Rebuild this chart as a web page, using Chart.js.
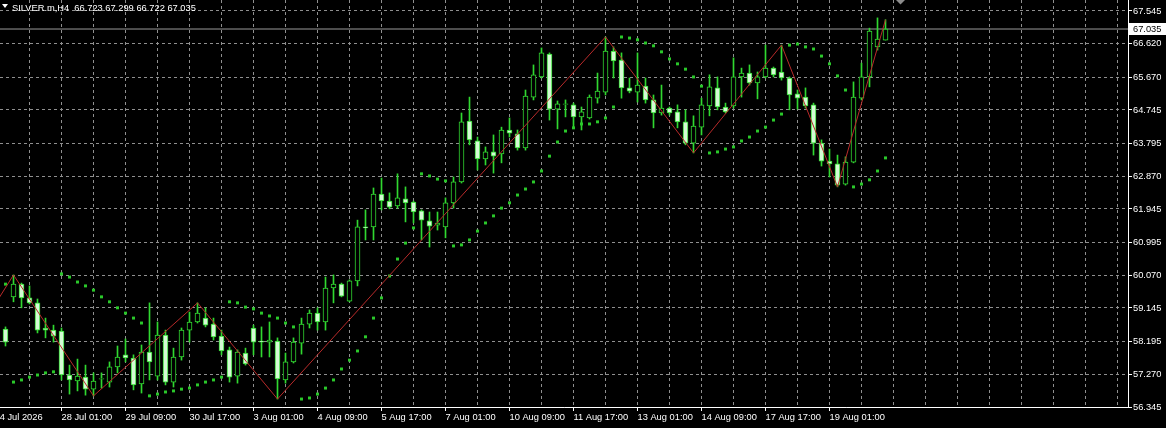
<!DOCTYPE html>
<html>
<head>
<meta charset="utf-8">
<script src="https://cdn.jsdelivr.net/npm/chart.js@4.4.1/dist/chart.umd.min.js"></script>
<style>
html,body{margin:0;padding:0;background:#000;}
#wrap{width:1166px;height:428px;}
</style>
</head>
<body>
<div id="wrap"><canvas id="c" width="1166" height="428"></canvas></div>
<script>
// SYMBOL
const symbol = "SILVER.m,H4";

// CANDLES (H4 bars, index 0 = leftmost visible bar)
const open = [58.55,59.46,59.82,59.43,59.29,58.58,58.52,58.49,57.25,57.08,
57.19,56.85,57.13,57.05,57.48,57.82,57.73,57.00,57.90,57.22,
58.38,57.05,57.76,58.52,58.75,58.86,58.69,58.35,57.96,57.22,
57.87,58.58,58.21,58.18,58.21,57.11,57.62,58.15,58.69,59.00,
58.75,59.71,59.82,59.34,59.91,61.44,61.44,62.37,62.17,62.03,
62.23,62.14,61.89,61.61,61.49,61.44,62.12,62.71,64.43,63.87,
63.36,63.56,63.50,64.18,64.07,63.67,65.11,65.68,66.33,64.77,
64.90,64.89,64.55,64.52,65.08,65.25,66.41,66.16,65.37,65.25,
65.42,65.03,64.66,64.80,64.69,64.41,63.81,64.26,64.86,65.37,
64.83,64.86,65.68,65.79,65.51,65.68,65.93,65.82,65.65,65.20,
65.11,64.89,63.81,63.30,63.22,62.65,63.27,65.08,65.68,66.53,66.723];
const high = [58.61,60.08,59.85,59.77,59.40,58.86,58.66,58.58,57.53,57.70,
57.53,57.31,57.31,57.62,58.07,58.27,57.82,58.10,59.29,58.75,
58.52,58.01,58.58,59.03,59.29,59.15,58.86,58.52,58.04,57.96,
58.01,58.66,58.61,58.75,58.30,57.87,58.30,58.86,59.09,59.15,
60.02,60.08,59.85,59.94,61.63,61.92,62.54,62.82,62.40,62.94,
62.57,62.17,61.92,61.86,61.86,62.26,62.85,64.66,65.11,63.98,
63.70,64.04,64.26,64.52,64.18,65.31,66.02,66.50,66.36,65.00,
65.03,64.94,64.83,65.17,65.79,66.81,66.53,66.36,65.65,66.36,
65.65,65.17,65.45,64.83,64.89,64.75,64.58,65.08,65.74,65.68,
64.94,66.22,65.93,66.02,65.82,66.58,65.96,66.58,65.68,65.31,
65.37,64.94,63.90,63.64,63.47,63.42,65.54,66.07,67.06,67.35,67.299];
const low = [58.07,59.32,59.15,59.26,58.44,58.30,58.18,57.11,56.71,56.80,
56.68,56.66,56.88,56.91,57.31,57.62,56.83,56.74,57.11,57.11,
56.97,56.91,57.67,58.18,58.72,58.61,58.24,57.82,57.05,57.02,
57.53,57.82,57.76,57.76,56.57,57.02,57.59,57.84,58.58,58.52,
58.52,59.29,59.46,59.32,59.77,61.07,61.07,61.92,61.95,61.97,
61.58,61.55,61.07,60.87,61.35,61.13,61.97,62.68,63.76,63.05,
63.19,62.96,63.25,63.98,63.61,63.61,65.03,65.65,64.46,64.21,
64.55,64.26,64.18,64.49,64.94,65.17,65.65,65.08,65.23,64.97,
64.94,64.24,64.60,64.60,64.24,63.76,63.53,64.04,64.58,64.75,
64.66,64.80,65.11,65.45,65.06,65.65,65.68,65.59,64.75,64.77,
64.80,63.47,63.16,62.85,62.57,62.62,63.25,65.03,65.40,66.44,66.722];
const close = [58.18,59.82,59.43,59.29,58.52,58.52,58.35,57.25,57.11,57.22,
56.85,57.08,57.15,57.48,57.76,57.73,56.97,57.90,57.62,58.38,
57.05,57.76,58.52,58.75,59.00,58.66,58.33,57.93,57.19,57.90,
57.56,58.18,58.18,58.24,57.14,57.62,58.18,58.69,59.00,58.75,
59.71,59.82,59.48,59.91,61.44,61.41,62.37,62.17,62.00,62.26,
62.12,61.86,61.63,61.46,61.55,62.12,62.71,64.41,63.90,63.36,
63.56,63.44,64.18,64.09,63.67,65.14,65.74,66.36,64.77,64.92,
64.92,64.55,64.69,65.11,65.28,66.41,66.13,65.37,65.28,65.45,
65.03,64.66,64.80,64.66,64.41,63.81,64.29,64.89,65.40,64.83,
64.69,65.68,65.79,65.51,65.68,65.93,65.74,65.65,65.17,65.08,
64.86,63.81,63.30,63.22,62.62,63.27,65.11,65.68,66.98,66.75,67.035];

// PARABOLIC SAR (one dot per bar)
const sar = [59.82,57.05,57.11,57.19,57.25,57.31,57.34,60.11,60.02,59.88,
59.77,59.65,59.46,59.32,59.15,59.00,58.86,58.72,56.66,56.71,
56.77,56.80,56.85,56.88,56.97,57.05,57.11,57.19,59.32,59.29,
59.17,59.12,59.00,58.92,58.86,58.72,58.61,56.57,56.60,56.71,
56.88,57.11,57.42,57.67,57.93,58.33,58.86,59.43,60.05,60.53,
60.98,61.41,62.94,62.88,62.79,62.74,60.90,60.93,61.07,61.32,
61.55,61.75,61.97,62.12,62.34,62.51,62.71,63.02,63.44,63.84,
64.15,64.24,64.35,64.35,64.41,64.52,64.83,66.81,66.78,66.73,
66.64,66.56,66.39,66.19,66.05,65.90,65.68,65.42,63.53,63.56,
63.64,63.70,63.87,63.98,64.15,64.26,64.46,64.63,66.58,66.61,
66.53,66.47,66.27,66.05,65.71,65.31,62.57,62.65,62.77,63.02,63.39];

// ZIGZAG swing points
const zzBars = [-3, 1, 11, 24, 34, 75, 86, 97, 104, 110];
const zzPrices = [58.64, 60.08, 56.66, 59.29, 56.57, 66.81, 63.53, 66.58, 62.57, 67.299];

// AXES
const yTicks = [56.345,57.270,58.195,59.145,60.070,60.995,61.945,62.870,63.795,64.745,65.670,66.620,67.545];
const xLabelBars = [-1.375, 7, 15, 23, 31, 39, 47, 55, 63, 71, 79, 87, 95, 103];
const xLabels = ["24 Jul 2026","28 Jul 01:00","29 Jul 09:00","30 Jul 17:00","3 Aug 01:00","4 Aug 09:00",
"5 Aug 17:00","7 Aug 01:00","10 Aug 09:00","11 Aug 17:00","13 Aug 01:00","14 Aug 09:00","17 Aug 17:00","19 Aug 01:00"];

// STYLE
const GREEN = "#30d830";
const BEAR_FILL = "#d4fad4";
const SAR_COL = "#2ac82a";
const ZZ_COL = "#b82a2a";
const GRID = "#8f8f8f";
const FONT = {family: "'Liberation Sans', Arial, sans-serif", size: 9.3};

const bars = open.map((_, k) => k);
const last = bars.length - 1;
const xMin = -0.6875, xMax = 140.3125;
let gridBars = [];
for (let k = 3; k <= 139; k += 4) gridBars.push(k);

// extra drawing: header, price label, shift marker
const extras = {
  id: "extras",
  afterDraw(chart) {
    const ctx = chart.ctx;
    const yS = chart.scales.y;
    ctx.save();
    // header
    ctx.fillStyle = "#fff";
    ctx.beginPath();
    ctx.moveTo(2, 4); ctx.lineTo(8, 4); ctx.lineTo(5, 8); ctx.closePath(); ctx.fill();
    ctx.font = "9.3px 'Liberation Sans', Arial, sans-serif";
    ctx.textBaseline = "alphabetic";
    ctx.fillText(symbol + "  " + open[last].toFixed(3) + " " + high[last].toFixed(3) + " " +
      low[last].toFixed(3) + " " + close[last].toFixed(3), 12, 11);
    // current price label
    let py = Math.round(yS.getPixelForValue(close[last]));
    ctx.fillStyle = "#fff";
    ctx.fillRect(chart.chartArea.right + 1, py - 6, 37, 12);
    ctx.fillStyle = "#000";
    ctx.textBaseline = "middle";
    ctx.fillText(close[last].toFixed(3), chart.chartArea.right + 5, py + 0.5);
    // chart shift marker
    ctx.fillStyle = "#8c8c8c";
    ctx.beginPath();
    ctx.moveTo(896, 0); ctx.lineTo(905, 0); ctx.lineTo(900.5, 4.5); ctx.closePath(); ctx.fill();
    ctx.restore();
  }
};

new Chart(document.getElementById("c"), {
  type: "bar",
  data: {
    datasets: [
      {
        type: "line",
        data: zzBars.map((b, i) => ({x: b, y: zzPrices[i]})),
        borderColor: ZZ_COL,
        borderWidth: 1,
        pointRadius: 0,
        tension: 0,
        order: 0
      },
      {
        type: "line",
        data: bars.map(k => ({x: k, y: sar[k]})),
        showLine: false,
        pointStyle: "rect",
        pointRadius: 2.1,
        pointBackgroundColor: SAR_COL,
        pointBorderWidth: 0,
        order: 1
      },
      {
        data: bars.map(k => ({x: k, y: [open[k], close[k]]})),
        backgroundColor: bars.map(k => close[k] >= open[k] ? "#000" : BEAR_FILL),
        borderColor: GREEN,
        borderWidth: 1,
        borderSkipped: false,
        barThickness: 5,
        grouped: false,
        order: 2
      },
      {
        data: bars.map(k => ({x: k, y: [low[k], high[k]]})),
        backgroundColor: GREEN,
        borderWidth: 0,
        barThickness: 1,
        grouped: false,
        order: 3
      },
      {
        type: "line",
        data: [{x: xMin, y: close[last]}, {x: xMax, y: close[last]}],
        borderColor: "#9a9a9a",
        borderWidth: 1,
        pointRadius: 0,
        order: 4
      }
    ]
  },
  options: {
    responsive: false,
    animation: false,
    devicePixelRatio: 1,
    layout: {padding: 0, autoPadding: false},
    plugins: {legend: {display: false}, tooltip: {enabled: false}},
    scales: {
      x: {
        type: "linear",
        min: xMin,
        max: xMax,
        offset: false,
        afterBuildTicks: s => { s.ticks = [xLabelBars[0]].concat(gridBars).map(v => ({value: v})); },
        afterFit: s => { s.height = 21; s.paddingLeft = 0; s.paddingRight = 0; },
        ticks: {
          autoSkip: false,
          maxRotation: 0,
          align: "start",
          padding: 1,
          color: "#fff",
          font: FONT,
          callback: v => { const i = xLabelBars.indexOf(v); return i >= 0 ? xLabels[i] : ""; }
        },
        grid: {
          offset: false,
          color: GRID,
          tickLength: 4,
          tickColor: c => (c.tick && xLabelBars.indexOf(c.tick.value) >= 0) ? "#fff" : "rgba(0,0,0,0)"
        },
        border: {display: true, color: "#fff", width: 1, dash: [3, 3]}
      },
      y: {
        type: "linear",
        position: "right",
        min: 56.345,
        max: 67.856,
        beginAtZero: false,
        afterBuildTicks: s => { s.ticks = yTicks.map(v => ({value: v})); },
        afterFit: s => { s.width = 38; s.paddingTop = 0; s.paddingBottom = 0; },
        ticks: {
          padding: 1,
          color: "#fff",
          font: FONT,
          callback: v => v.toFixed(3)
        },
        grid: {color: GRID, tickLength: 4, tickColor: "#fff"},
        border: {display: true, color: "#fff", width: 1, dash: [3, 3]}
      }
    }
  },
  plugins: [extras]
});
</script>
</body>
</html>
